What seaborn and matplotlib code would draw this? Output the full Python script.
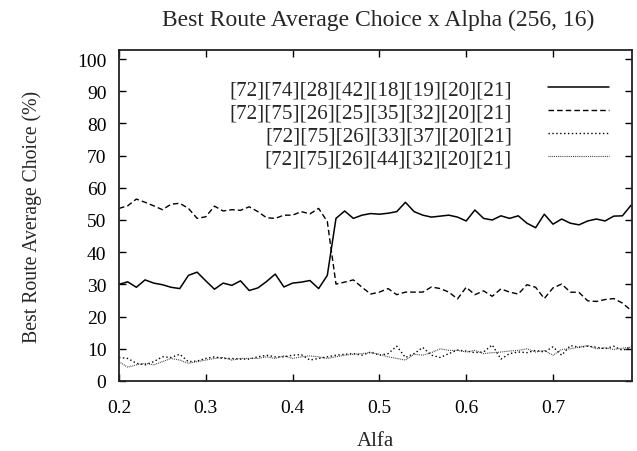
import numpy as np
import pandas as pd
import matplotlib
matplotlib.use("Agg")
import matplotlib.pyplot as plt
import seaborn as sns

alfa = [0.20, 0.21, 0.22, 0.23, 0.24, 0.25, 0.26, 0.27, 0.28, 0.29,
        0.30, 0.31, 0.32, 0.33, 0.34, 0.35, 0.36, 0.37, 0.38, 0.39,
        0.40, 0.41, 0.42, 0.43, 0.44, 0.45, 0.46, 0.47, 0.48, 0.49,
        0.50, 0.51, 0.52, 0.53, 0.54, 0.55, 0.56, 0.57, 0.58, 0.59,
        0.60, 0.61, 0.62, 0.63, 0.64, 0.65, 0.66, 0.67, 0.68, 0.69,
        0.70, 0.71, 0.72, 0.73, 0.74, 0.75, 0.76, 0.77, 0.78, 0.79]

route1 = [30.0, 30.8, 29.1, 31.4, 30.4, 29.9, 29.1, 28.7, 32.8, 33.8,
          31.1, 28.5, 30.4, 29.7, 31.1, 28.1, 28.9, 30.9, 33.2, 29.2,
          30.4, 30.7, 31.2, 28.7, 32.8, 50.5, 52.8, 50.5, 51.5, 52.0,
          51.8, 52.1, 52.6, 55.5, 52.6, 51.5, 50.9, 51.2, 51.5, 50.9,
          49.7, 53.1, 50.5, 50.0, 51.3, 50.5, 51.3, 49.0, 47.6, 51.8,
          48.7, 50.3, 49.0, 48.5, 49.7, 50.3, 49.7, 51.2, 51.3, 54.6]

route2 = [53.6, 54.4, 56.5, 55.5, 54.4, 53.2, 54.9, 55.2, 53.6, 50.5,
          51.0, 54.3, 52.8, 53.2, 53.0, 54.1, 52.6, 50.7, 50.5, 51.5,
          51.5, 52.6, 51.9, 53.6, 49.5, 30.1, 30.7, 31.4, 29.1, 27.0,
          27.6, 28.7, 26.8, 27.6, 27.6, 27.6, 29.2, 28.7, 27.6, 25.5,
          29.1, 26.8, 28.0, 26.3, 28.6, 27.6, 27.0, 29.9, 29.1, 25.6,
          28.9, 30.1, 27.6, 27.5, 24.9, 24.7, 25.3, 25.6, 24.2, 21.9]

route3 = [7.3, 7.0, 5.5, 5.0, 6.0, 7.5, 7.3, 8.3, 6.0, 6.2,
          7.0, 7.5, 7.0, 7.0, 6.8, 6.8, 7.5, 8.0, 7.5, 7.5,
          8.0, 8.2, 6.5, 7.0, 7.5, 8.0, 8.3, 8.5, 8.0, 9.0,
          8.0, 8.5, 10.8, 7.3, 8.5, 10.4, 8.0, 7.3, 8.5, 9.6,
          9.3, 8.8, 9.0, 11.2, 6.8, 8.5, 9.0, 8.8, 9.5, 9.0,
          10.6, 8.0, 11.0, 10.5, 10.8, 10.5, 10.0, 10.8, 9.5, 10.6]

route4 = [6.0, 4.3, 5.0, 5.5, 5.0, 6.0, 7.0, 6.5, 5.5, 6.0,
          6.5, 7.0, 7.3, 6.5, 7.0, 7.0, 7.0, 7.5, 7.0, 7.8,
          7.0, 7.5, 7.8, 7.5, 7.0, 7.5, 8.0, 8.3, 8.5, 8.8,
          8.3, 7.5, 7.0, 6.5, 8.3, 8.0, 8.8, 10.0, 9.5, 9.5,
          9.0, 9.5, 8.5, 8.8, 9.0, 9.3, 9.5, 10.0, 9.0, 9.5,
          8.0, 9.8, 10.0, 10.5, 11.0, 10.0, 10.3, 9.8, 10.2, 10.5]

labels = ["[72][74][28][42][18][19][20][21]",
          "[72][75][26][25][35][32][20][21]",
          "[72][75][26][33][37][20][21]",
          "[72][75][26][44][32][20][21]"]

xticks = [0.2, 0.3, 0.4, 0.5, 0.6, 0.7]
yticks = [0, 10, 20, 30, 40, 50, 60, 70, 80, 90, 100]

sns.set_style("ticks")
plt.rcParams['font.family'] = ['Liberation Serif', 'DejaVu Serif']

fig = plt.figure(figsize=(6.37, 4.52), dpi=100)
ax = fig.add_axes([0.1868, 0.1549, 0.8053, 0.7323])

series = [route1, route2, route3, route4]
styles = [
    dict(color="black", linestyle="-", linewidth=1.1),
    dict(color="black", linestyle=(0, (4, 2.2)), linewidth=1.0),
    dict(color="black", linestyle=(0, (1, 1.8)), linewidth=1.0),
    dict(color="#333333", linestyle=(0, (0.8, 0.9)), linewidth=0.8),
]
for vals, lab, st in zip(series, labels, styles):
    df = pd.DataFrame({"Alfa": alfa, "val": vals})
    sns.lineplot(data=df, x="Alfa", y="val", ax=ax, label=lab,
                 estimator=None, sort=True, **st)

ax.set_xlim(0.2, 0.791)
ax.set_ylim(0, 102.8)
ax.set_xticks(xticks)
ax.set_xticklabels([f"{t:.1f}" for t in xticks])
ax.set_yticks(yticks)
ax.tick_params(direction="in", length=5, width=1, top=True, right=True,
               labelsize=14, colors="black")
ax.tick_params(axis="x", pad=13)
ax.tick_params(axis="y", pad=9)
for s in ax.spines.values():
    s.set_linewidth(1.3)
    s.set_color("#222222")

ax.set_xlabel("Alfa", fontsize=15, labelpad=11)
ax.set_ylabel("Best Route Average Choice (%)", fontsize=14.2, labelpad=25)
fig.suptitle("Best Route Average Choice x Alpha (256, 16)", fontsize=17,
             x=0.593, y=0.978)

leg = ax.legend(loc="upper right", bbox_to_anchor=(0.972, 0.935),
                frameon=False, markerfirst=False, fontsize=15.2,
                handlelength=2.9, handletextpad=1.7, labelspacing=0.15,
                borderaxespad=0)
try:
    leg._legend_box._children[-1]._children[0].align = "right"
except Exception:
    pass

fig.savefig("out.png", dpi=100)
